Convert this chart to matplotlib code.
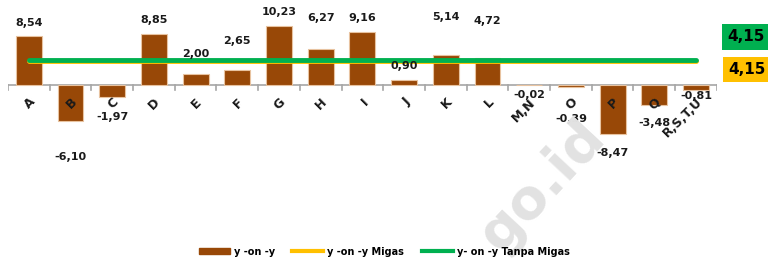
import matplotlib
matplotlib.use("Agg")
from matplotlib import pyplot as plt
from matplotlib.lines import Line2D
import matplotlib.patches as mpatches
import numpy as np

# Data
categories = ["A", "B", "C", "D", "E", "F", "G", "H", "I", "J", "K", "L",
              "M,N", "O", "P", "Q", "R,S,T,U"]
yoy = [8.54, -6.10, -1.97, 8.85, 2.00, 2.65, 10.23, 6.27, 9.16, 0.90,
       5.14, 4.72, -0.02, -0.39, -8.47, -3.48, -0.81]
yoy_migas = 4.15
yoy_tanpa_migas = 4.15

# where the value labels sit (data units), as placed in the original chart
label_y = [10.7, -12.4, -5.5, 11.2, 5.3, 7.6, 12.6, 11.6, 11.6, 3.3,
           11.7, 11.0, -1.7, -5.9, -11.7, -6.5, -1.9]

brown = "#984807"
yellow = "#FFC000"
green = "#00B050"

plt.rcParams['font.family'] = ['DejaVu Sans']

fig = plt.figure(figsize=(7.68, 2.65), dpi=100)

# watermark
fig.text(0.706, 0.30, "go.id", rotation=47, fontsize=40, fontweight='bold', color='#E2E2E2',
         ha='center', va='center', zorder=0)

ax = fig.add_axes([0.0104, 0.245, 0.923, 0.755])
ax.patch.set_alpha(0)

x_pos = np.arange(len(categories))
ax.bar(x_pos, yoy, width=0.62, color=brown, edgecolor="#E8C3A0", linewidth=0.8, zorder=2)

# horizontal reference lines, from first to last category
ax.plot([x_pos[0], x_pos[-1]], [yoy_migas, yoy_migas], color=yellow, lw=3.5, zorder=3,
        solid_capstyle='round')
ax.plot([x_pos[0], x_pos[-1]], [yoy_tanpa_migas + 0.12, yoy_tanpa_migas + 0.12], color=green,
        lw=3.5, zorder=4, solid_capstyle='round')

for i, v in enumerate(yoy):
    ax.text(x_pos[i], label_y[i], f"{v:.2f}".replace(".", ","), ha='center', va='center',
            fontsize=8, fontweight='bold', color='#1a1a1a', zorder=5)

ax.set_xlim(-0.5, len(categories) - 0.5)
ax.set_ylim(-19.8, 14.66)

for side in ['top', 'right', 'left', 'bottom']:
    ax.spines[side].set_visible(False)
ax.axhline(0, color="#A6A6A6", lw=1.2, zorder=1)
ax.set_yticks([])

ax.set_xticks(x_pos)
ax.set_xticklabels([])
ax.tick_params(axis='x', which='major', length=0)
for i, c in enumerate(categories):
    ax.text(x_pos[i] + 0.1, -2.6, c, rotation=45, rotation_mode='anchor', ha='right',
            va='center', fontsize=9, fontweight='bold', color='#1a1a1a', zorder=5)
for b in np.arange(-0.5, len(categories), 1.0):
    ax.plot([b, b], [0, -0.9], color="#A6A6A6", lw=1.2, zorder=1)

# value boxes on the right
fig.text(0.971, 0.861, "4,15", ha='center', va='center', fontsize=11, fontweight='bold',
         bbox=dict(boxstyle='square,pad=0.35', fc=green, ec='none'))
fig.text(0.973, 0.738, "4,15", ha='center', va='center', fontsize=11, fontweight='bold',
         bbox=dict(boxstyle='square,pad=0.35', fc=yellow, ec='none'))

handles = [
    mpatches.Patch(color=brown, label="y -on -y"),
    Line2D([0], [0], color=yellow, lw=3, label="y -on -y Migas"),
    Line2D([0], [0], color=green, lw=3, label="y- on -y Tanpa Migas"),
]
fig.legend(handles=handles, loc='center', bbox_to_anchor=(0.5, 0.05), ncol=3, frameon=False,
           prop={'size': 7, 'weight': 'bold'}, handlelength=3.2, columnspacing=1.8,
           handleheight=0.6, handletextpad=0.4)

fig.savefig("out.png", dpi=100)
